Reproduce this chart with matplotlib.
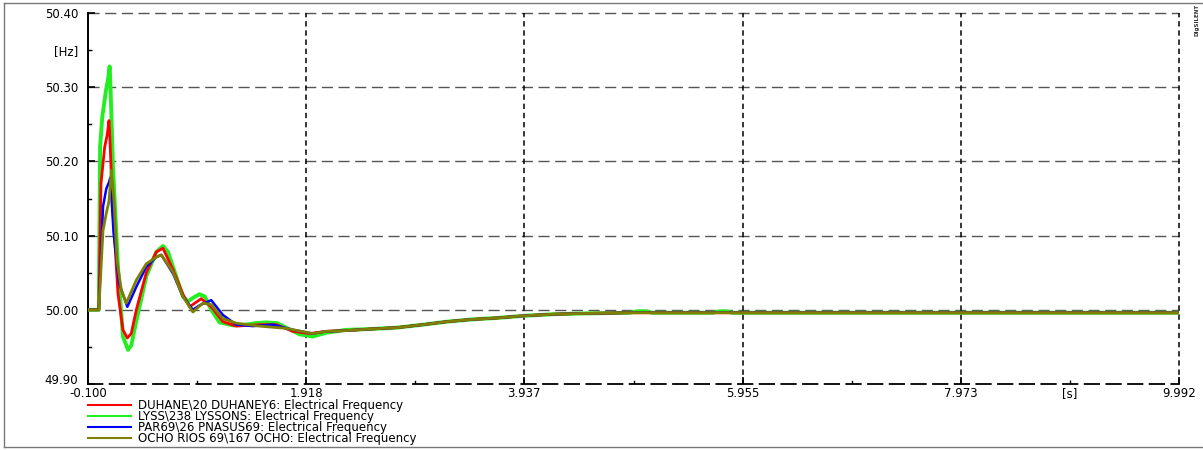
import matplotlib
matplotlib.use("Agg")
import matplotlib.pyplot as plt
from matplotlib.lines import Line2D

plt.rcParams["font.family"] = ["DejaVu Sans"]

# -------------------- DATA --------------------

x_ticks = [-0.100, 1.918, 3.937, 5.955, 7.973, 9.992]
x_tick_labels = ["-0.100", "1.918", "3.937", "5.955", "7.973", "9.992"]
y_ticks = [49.90, 50.00, 50.10, 50.20, 50.30, 50.40]
y_tick_labels = ["49.90", "50.00", "50.10", "50.20", "50.30", "50.40"]

labels = [
    "DUHANE\\20 DUHANEY6: Electrical Frequency",
    "LYSS\\238 LYSSONS: Electrical Frequency",
    "PAR69\\26 PNASUS69: Electrical Frequency",
    "OCHO RIOS 69\\167 OCHO: Electrical Frequency",
]
colors = ["#ff0000", "#22ee22", "#0000ff", "#808000"]

# shared slow recovery after ~2.2 s
tail_t = [2.29, 2.5, 2.76, 3.0, 3.22, 3.45, 3.68, 3.94, 4.2, 4.45, 4.91, 9.992]
tail_f = [49.972, 49.974, 49.976, 49.980, 49.984, 49.987, 49.989, 49.992,
          49.994, 49.995, 49.996, 49.996]

duhane_t = [-0.1, 0.0, 0.02, 0.054, 0.079, 0.094, 0.10, 0.125, 0.177, 0.223,
            0.264, 0.30, 0.347, 0.439, 0.532, 0.593, 0.686, 0.778, 0.84,
            0.947, 1.04, 1.148, 1.271, 1.487, 1.641, 1.795, 1.949, 2.103]
duhane_f = [50.0, 50.0, 50.17, 50.219, 50.237, 50.255, 50.24, 50.148, 50.022,
            49.973, 49.962, 49.968, 50.0, 50.05, 50.078, 50.083, 50.054,
            50.021, 50.004, 50.015, 50.004, 49.984, 49.978, 49.980, 49.980,
            49.971, 49.968, 49.971]

lyss_t = [-0.1, 0.0, 0.012, 0.032, 0.069, 0.085, 0.100, 0.106, 0.131, 0.177,
          0.223, 0.270, 0.30, 0.347, 0.439, 0.532, 0.593, 0.64, 0.686, 0.778,
          0.824, 0.87, 0.93, 0.98, 1.04, 1.117, 1.24, 1.363, 1.45, 1.55,
          1.65, 1.733, 1.856, 1.979, 2.103]
lyss_f = [50.0, 50.0, 50.22, 50.26, 50.298, 50.31, 50.328, 50.31, 50.193,
          50.058, 49.964, 49.946, 49.952, 49.985, 50.045, 50.078, 50.086,
          50.078, 50.058, 50.018, 50.011, 50.016, 50.021, 50.018, 50.0,
          49.983, 49.979, 49.980, 49.982, 49.983, 49.982, 49.976, 49.967,
          49.964, 49.969]
# two small blips on the green trace around 5.0 s and 5.75 s
lyss_late_t = [2.29, 2.5, 2.76, 3.0, 3.22, 3.45, 3.68, 3.94, 4.2, 4.45, 4.91,
               4.98, 5.06, 5.12, 5.68, 5.74, 5.8, 5.86, 9.992]
lyss_late_f = [49.973, 49.974, 49.976, 49.980, 49.984, 49.987, 49.989, 49.992,
               49.994, 49.995, 49.996, 49.998, 49.998, 49.996, 49.996, 49.998,
               49.998, 49.996, 49.996]

par69_t = [-0.1, 0.0, 0.039, 0.069, 0.094, 0.106, 0.137, 0.187, 0.264, 0.347,
           0.439, 0.532, 0.578, 0.686, 0.778, 0.87, 0.932, 1.04, 1.148, 1.271,
           1.425, 1.61, 1.795, 1.979, 2.103]
par69_f = [50.0, 50.0, 50.139, 50.163, 50.172, 50.178, 50.103, 50.036, 50.004,
           50.031, 50.058, 50.071, 50.074, 50.049, 50.018, 50.0, 50.006,
           50.013, 49.993, 49.980, 49.978, 49.980, 49.973, 49.968, 49.971]

ocho_t = [-0.1, 0.0, 0.039, 0.069, 0.094, 0.116, 0.14, 0.168, 0.208, 0.254,
          0.347, 0.439, 0.532, 0.578, 0.686, 0.778, 0.87, 0.963, 1.04, 1.148,
          1.271, 1.487, 1.733, 1.979, 2.103]
ocho_f = [50.0, 50.0, 50.107, 50.130, 50.146, 50.188, 50.148, 50.067, 50.027,
          50.009, 50.040, 50.062, 50.071, 50.074, 50.051, 50.018, 49.997,
          50.009, 50.007, 49.988, 49.982, 49.978, 49.975, 49.968, 49.971]

series = [
    (duhane_t + tail_t, duhane_f + tail_f),
    (lyss_t + lyss_late_t, lyss_f + lyss_late_f),
    (par69_t + tail_t, par69_f + tail_f),
    (ocho_t + tail_t, ocho_f + tail_f),
]

# -------------------- PLOT --------------------

fig = plt.figure(figsize=(12.03, 4.5), dpi=100)
ax = fig.add_axes([88 / 1203, 66 / 450, (1179 - 88) / 1203, (384 - 13) / 450])

# green goes underneath, drawn thicker
widths = [2.0, 2.8, 1.8, 2.0]
order = [1, 0, 2, 3]
for i in order:
    t, f = series[i]
    ax.plot(t, f, color=colors[i], lw=widths[i], zorder=3 + order.index(i))

ax.set_xlim(-0.1, 9.992)
ax.set_ylim(49.90, 50.40)

ax.set_xticks(x_ticks)
ax.set_xticklabels(x_tick_labels)
ax.set_xticks([8.9825], minor=True)
ax.set_xticklabels(["[s]"], minor=True)
ax.set_yticks(y_ticks)
ax.set_yticklabels(y_tick_labels)
ax.set_yticks([50.35], minor=True)
ax.set_yticklabels(["[Hz]"], minor=True)

ax.tick_params(axis="both", which="both", direction="in", labelsize=8.5,
               colors="black")
ax.tick_params(axis="x", which="major", length=5, width=1.2, pad=2)
ax.tick_params(axis="x", which="minor", length=3, width=1, pad=2)
ax.tick_params(axis="y", which="major", length=5, width=1.2, pad=7)
ax.tick_params(axis="y", which="minor", length=3, width=1, pad=7)
# bottom y label sits on the axis line so it clears the first x label
ax.get_yticklabels()[0].set_verticalalignment("baseline")

# extra minor marks without labels
for xm in [0.909, 2.9275, 4.946, 6.964]:
    ax.axvline(xm, ymin=0, ymax=0.008, color="black", lw=1, zorder=6)
for ym in [49.95, 50.05, 50.15, 50.25]:
    ax.axhline(ym, xmin=0, xmax=0.003, color="black", lw=1, zorder=6)

# grid
for yv in y_ticks[1:]:
    ax.axhline(yv, color="#555555", lw=1, ls=(0, (8, 4)), zorder=1, clip_on=False)
for xv in x_ticks[1:]:
    ax.axvline(xv, color="black", lw=1.1, ls=(0, (3.5, 2.5)), zorder=1, clip_on=False)

for s in ["top", "right"]:
    ax.spines[s].set_visible(False)
ax.spines["left"].set_linewidth(1.4)
ax.spines["bottom"].set_linewidth(1.3)
ax.spines["bottom"].set_linestyle((0, (8, 4)))

handles = [Line2D([], [], color=c, lw=1.5) for c in colors]
fig.legend(handles, labels, loc="upper left",
           bbox_to_anchor=(88 / 1203, 1 - 399.5 / 450),
           frameon=False, fontsize=8.5, handlelength=3.6, handletextpad=0.6,
           labelspacing=-0.17, borderpad=0, borderaxespad=0)

# outer frame
fig.add_artist(Line2D([4 / 1203, 1], [1 - 3 / 450, 1 - 3 / 450],
                      transform=fig.transFigure, color="#777777", lw=1))
fig.add_artist(Line2D([4 / 1203, 1], [3 / 450, 3 / 450],
                      transform=fig.transFigure, color="#777777", lw=1))
fig.add_artist(Line2D([4 / 1203, 4 / 1203], [3 / 450, 1 - 3 / 450],
                      transform=fig.transFigure, color="#777777", lw=1))

fig.text(1197 / 1203, 1 - 20 / 450, "DIgSILENT", rotation=90, fontsize=4,
         fontweight="bold", ha="center", va="center", color="#333333")

fig.savefig("out.png", dpi=100)
